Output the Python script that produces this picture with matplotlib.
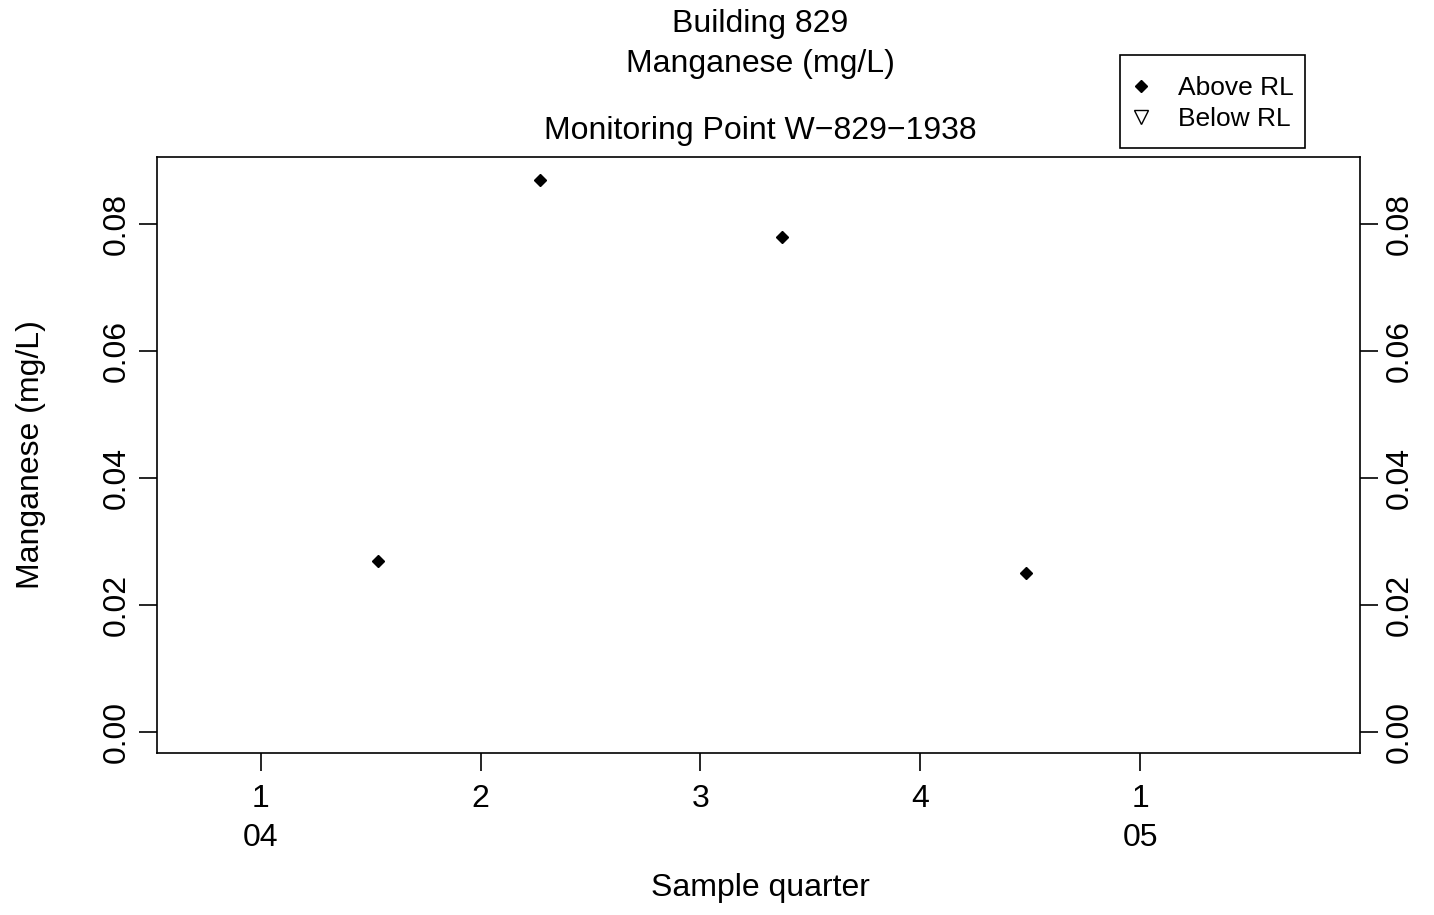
import matplotlib
matplotlib.use("Agg")
import matplotlib.pyplot as plt
from matplotlib.lines import Line2D
from matplotlib.patches import Rectangle

plt.rcParams['font.family'] = ['Liberation Sans', 'DejaVu Sans']

# Data: sample times (decimal years) and Manganese (mg/L)
sample_time = [2004.133, 2004.318, 2004.593, 2004.870]
manganese = [0.027, 0.087, 0.078, 0.025]

quarter_ticks = [2004.0, 2004.25, 2004.5, 2004.75, 2005.0]
quarter_labels = ["1\n04", "2", "3", "4", "1\n05"]
y_ticks = [0.00, 0.02, 0.04, 0.06, 0.08]
y_labels = ["0.00", "0.02", "0.04", "0.06", "0.08"]

W, H = 1434, 915
fig = plt.figure(figsize=(W / 100, H / 100), dpi=100)
ax = fig.add_axes([157 / W, 1 - 753 / H, (1360 - 157) / W, (753 - 157) / H])

ax.plot(sample_time, manganese, linestyle='none', marker='D', markersize=6,
        color='black')

ax.set_xlim(2003.882, 2005.250)
ax.set_ylim(-0.0033, 0.0906)

fs = 23
ax.set_xticks(quarter_ticks)
ax.set_xticklabels(quarter_labels, fontsize=fs, linespacing=1.4)
ax.set_yticks(y_ticks)
ax.set_yticklabels(y_labels, fontsize=fs, va='center')
ax.tick_params(axis='both', direction='out', length=13, width=1.2,
               color='black')
ax.tick_params(axis='x', pad=9)
ax.tick_params(axis='y', pad=5, right=True, labelright=True)
for t in ax.yaxis.get_major_ticks():
    t.label1.set_rotation(90)
    t.label2.set_rotation(90)
    t.label1.set_va('center')
    t.label2.set_va('center')
for s in ax.spines.values():
    s.set_linewidth(1.2)

fig.text(760 / W, 1 - 888 / H, "Sample quarter", ha='center', va='center', fontsize=fs)
fig.text(31 / W, 1 - 455 / H, "Manganese (mg/L)", ha='center', va='center',
         fontsize=fs, rotation=90)

fig.text(760 / W, 1 - 24 / H, "Building 829", ha='center', va='center', fontsize=fs)
fig.text(760 / W, 1 - 64 / H, "Manganese (mg/L)", ha='center', va='center', fontsize=fs)
fig.text(760 / W, 1 - 131 / H, "Monitoring Point W\u2212829\u22121938",
         ha='center', va='center', fontsize=fs)

handles = [Line2D([], [], linestyle='none', marker='D', markersize=6, color='black'),
           Line2D([], [], linestyle='none', marker='v', markersize=10,
                  markerfacecolor='white', markeredgecolor='black')]
leg = fig.legend(handles, ["Above RL", "Below RL"], loc='upper left',
                 bbox_to_anchor=(1120 / W, 1 - 68 / H), fontsize=19,
                 frameon=False, handlelength=1.0, handletextpad=0.9,
                 borderpad=0.3, labelspacing=0.27, borderaxespad=0)
fig.patches.append(Rectangle((1120 / W, 1 - 148 / H), (1305 - 1120) / W, (148 - 55) / H,
                             transform=fig.transFigure, fill=False,
                             edgecolor='black', linewidth=1.2))

fig.savefig("out.png", dpi=100)
